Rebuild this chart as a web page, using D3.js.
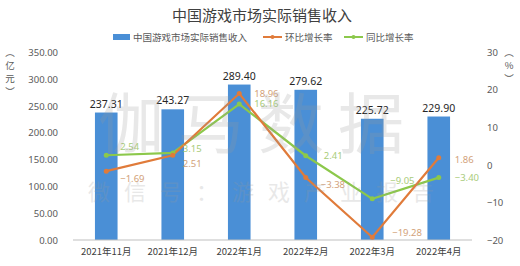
<!DOCTYPE html>
<html><head><meta charset="utf-8">
<script src="https://cdn.jsdelivr.net/npm/d3@7"></script>
<style>
html,body{margin:0;padding:0;background:#fff;}
text{font-family:"Noto Sans CJK SC","Noto Sans",sans-serif;}
</style></head>
<body><svg id="c" width="520" height="266"></svg>
<script>
const categories = ["2021年11月","2021年12月","2022年1月","2022年2月","2022年3月","2022年4月"];
const revenue = [237.31, 243.27, 289.40, 279.62, 225.72, 229.90];
const momRate = [-1.69, 2.51, 18.96, -3.38, -19.28, 1.86];
const yoyRate = [2.54, 3.15, 16.16, 2.41, -9.05, -3.40];
const leftTicks = [0,50,100,150,200,250,300,350];
const rightTicks = [-20,-10,0,10,20,30];
// label offsets (styling)
const momDx = [14, 10, 15, 15, 20, 16];
const momDy = [8, 8, 0, 7, -5, 2];
const yoyDx = [14, 10, 15, 18, 18, 16];
const yoyDy = [-9, -4, 0, 0, -18, 0];

const svg = d3.select("#c");
const W = 520, H = 266;
const m = {l:73, r:48, t:52, b:26};
const x = d3.scaleBand().domain(categories).range([m.l, W - m.r]).paddingInner(0.66).paddingOuter(0.33);
const yL = d3.scaleLinear().domain([0,350]).range([H - m.b, m.t]);
const yR = d3.scaleLinear().domain([-20,30]).range([H - m.b, m.t]);
const cx = d => x(d) + x.bandwidth()/2;

const blue = "#4A8FD6", orange = "#E07B3A", green = "#8CC84B";
const orangeText = "#D2A27A", greenText = "#A9CC7A";

// title
svg.append("text").attr("x", 262).attr("y", 21).attr("text-anchor","middle")
  .attr("font-size", 15).attr("fill","#404040").text("中国游戏市场实际销售收入");

// legend
const lg = svg.append("g").attr("font-size", 9.5).attr("fill","#595959");
lg.append("rect").attr("x",113).attr("y",34).attr("width",17).attr("height",6).attr("fill",blue);
lg.append("text").attr("x",133).attr("y",40.5).text("中国游戏市场实际销售收入");
lg.append("line").attr("x1",263).attr("x2",282).attr("y1",37).attr("y2",37).attr("stroke",orange).attr("stroke-width",2);
lg.append("circle").attr("cx",272.5).attr("cy",37).attr("r",2).attr("fill",orange);
lg.append("text").attr("x",285).attr("y",40.5).text("环比增长率");
lg.append("line").attr("x1",344).attr("x2",363).attr("y1",37).attr("y2",37).attr("stroke",green).attr("stroke-width",2);
lg.append("circle").attr("cx",353.5).attr("cy",37).attr("r",2).attr("fill",green);
lg.append("text").attr("x",366).attr("y",40.5).text("同比增长率");

// left axis
const gl = svg.append("g").attr("transform",`translate(${m.l - 12},0)`)
  .call(d3.axisLeft(yL).tickValues(leftTicks).tickFormat(d3.format(".2f")).tickSize(0));
gl.select(".domain").remove();
gl.selectAll("text").attr("font-size",9.5).attr("fill","#595959").attr("dy","0.35em")
  .style("font-family","'Noto Sans', sans-serif");

// right axis
const gr = svg.append("g").attr("transform",`translate(${W - m.r + 12},0)`)
  .call(d3.axisRight(yR).tickValues(rightTicks).tickFormat(d3.format("d")).tickSize(0));
gr.select(".domain").remove();
gr.selectAll("text").attr("font-size",9.5).attr("fill","#595959").attr("dy","0.35em")
  .style("font-family","'Noto Sans', sans-serif");

// axis titles (vertical)
const yt = svg.append("g").attr("font-size",9.5).attr("fill","#595959").attr("text-anchor","middle");
["︵","亿","元","︶"].forEach((c,i)=> yt.append("text").attr("x",10).attr("y",56 + i*13).text(c));
["︵","%","︶"].forEach((c,i)=> yt.append("text").attr("x",509).attr("y",56 + i*13).text(c));

// bars
svg.append("g").selectAll("rect").data(revenue).join("rect")
  .attr("x",(d,i)=>x(categories[i])).attr("width",x.bandwidth())
  .attr("y",d=>yL(d)).attr("height",d=>yL(0)-yL(d)).attr("fill",blue);

// baseline
svg.append("line").attr("x1",m.l).attr("x2",W-m.r).attr("y1",yL(0)).attr("y2",yL(0))
  .attr("stroke","#BFBFBF").attr("stroke-width",1);

// x axis labels
const gx = svg.append("g").attr("transform",`translate(0,${yL(0)})`)
  .call(d3.axisBottom(x).tickSize(0));
gx.select(".domain").remove();
gx.selectAll("text").attr("font-size",9.5).attr("fill","#404040").attr("dy","1.3em");

// bar labels
svg.append("g").selectAll("text").data(revenue).join("text")
  .attr("x",(d,i)=>cx(categories[i])).attr("y",d=>yL(d)-5).attr("text-anchor","middle")
  .attr("font-size",10.5).attr("fill","#262626")
  .style("font-family","'Noto Sans', sans-serif").text(d=>d3.format(".2f")(d));

// lines
const line = d3.line().x((d,i)=>cx(categories[i])).y(d=>yR(d));
svg.append("path").datum(yoyRate).attr("d",line).attr("fill","none").attr("stroke",green).attr("stroke-width",2.2);
svg.append("path").datum(momRate).attr("d",line).attr("fill","none").attr("stroke",orange).attr("stroke-width",2.2);
svg.append("g").selectAll("circle").data(yoyRate).join("circle")
  .attr("cx",(d,i)=>cx(categories[i])).attr("cy",d=>yR(d)).attr("r",2.5).attr("fill",green);
svg.append("g").selectAll("circle").data(momRate).join("circle")
  .attr("cx",(d,i)=>cx(categories[i])).attr("cy",d=>yR(d)).attr("r",2.5).attr("fill",orange);

// line labels
svg.append("g").selectAll("text").data(yoyRate).join("text")
  .attr("x",(d,i)=>cx(categories[i]) + yoyDx[i]).attr("y",(d,i)=>yR(d) + yoyDy[i]).attr("dy","0.35em")
  .attr("font-size",9.5).attr("fill",greenText)
  .style("font-family","'Noto Sans', sans-serif").text(d=>d3.format(".2f")(d));
svg.append("g").selectAll("text").data(momRate).join("text")
  .attr("x",(d,i)=>cx(categories[i]) + momDx[i]).attr("y",(d,i)=>yR(d) + momDy[i]).attr("dy","0.35em")
  .attr("font-size",9.5).attr("fill",orangeText)
  .style("font-family","'Noto Sans', sans-serif").text(d=>d3.format(".2f")(d));

// watermark
const wm = svg.append("g").attr("fill","#9a9a9a").attr("opacity",0.22).attr("text-anchor","middle");
wm.append("text").attr("x",258).attr("y",148).attr("font-size",66).attr("letter-spacing",14).text("伽马数据");
wm.append("text").attr("x",268).attr("y",200).attr("font-size",22).attr("letter-spacing",14).text("微信号：游戏产业报告");
</script></body></html>
